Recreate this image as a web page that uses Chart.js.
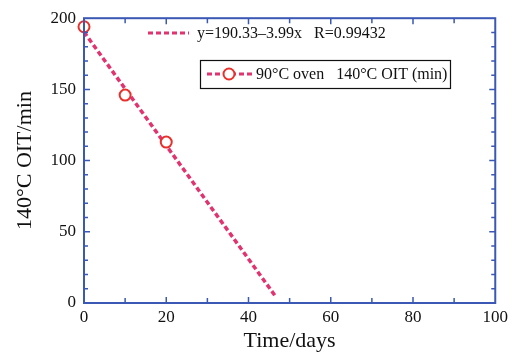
<!DOCTYPE html>
<html>
<head>
<meta charset="utf-8">
<script src="https://cdn.jsdelivr.net/npm/chart.js@4/dist/chart.umd.min.js"></script>
<style>
  html, body { margin: 0; padding: 0; background: #fff; }
  #wrap { width: 512px; height: 354px; }
</style>
</head>
<body>
<div id="wrap"><canvas id="chart" width="512" height="354"></canvas></div>
<script>
// datos
const days = [0, 10, 20];
const oit = [194, 146, 113];
const fitDays = [0, 46.5];
const fitOit = [190.3, 5];
const fitLabel = 'y=190.33\u20133.99x   R=0.99432';
const seriesLabel = '90\u00B0C oven   140\u00B0C OIT (min)';
const xTicks = [0, 20, 40, 60, 80, 100];
const yTicks = [0, 50, 100, 150, 200];

const axisColor = '#3b58b5';
const lineColor = '#e0336f';
const markColor = '#e8302c';
const serif = "'Liberation Serif', 'DejaVu Serif', serif";

// marco azul con ticks hacia adentro en los cuatro lados
const framePlugin = {
  id: 'frame',
  afterDraw(chart) {
    const { ctx, chartArea: a, scales: { x, y } } = chart;
    ctx.save();
    ctx.strokeStyle = axisColor;
    ctx.lineWidth = 2;
    ctx.strokeRect(a.left, a.top, a.right - a.left, a.bottom - a.top);
    ctx.lineWidth = 1.5;
    ctx.beginPath();
    for (let v = 10; v < 100; v += 10) {
      const px = x.getPixelForValue(v);
      const len = v % 20 === 0 ? 6 : 5;
      ctx.moveTo(px, a.bottom); ctx.lineTo(px, a.bottom - len);
      ctx.moveTo(px, a.top); ctx.lineTo(px, a.top + len);
    }
    for (let v = 10; v < 200; v += 10) {
      const py = y.getPixelForValue(v);
      const len = v % 50 === 0 ? 6 : 4;
      ctx.moveTo(a.left, py); ctx.lineTo(a.left + len, py);
      ctx.moveTo(a.right, py); ctx.lineTo(a.right - len, py);
    }
    ctx.stroke();
    ctx.restore();
  }
};

// leyendas dibujadas a mano como en el original
const legendPlugin = {
  id: 'customLegend',
  afterDraw(chart) {
    const ctx = chart.ctx;
    ctx.save();
    ctx.font = '16px ' + serif;
    ctx.fillStyle = '#111';
    ctx.textBaseline = 'middle';

    ctx.strokeStyle = lineColor;
    ctx.lineWidth = 3;
    ctx.setLineDash([5, 3]);
    ctx.beginPath();
    ctx.moveTo(148, 33); ctx.lineTo(189, 33);
    ctx.stroke();
    ctx.fillText(fitLabel, 197, 34);

    ctx.setLineDash([]);
    ctx.lineWidth = 1.2;
    ctx.strokeStyle = '#111';
    ctx.strokeRect(200.5, 60.5, 250, 28);

    ctx.strokeStyle = lineColor;
    ctx.lineWidth = 3;
    ctx.setLineDash([5, 3]);
    ctx.beginPath();
    ctx.moveTo(207, 74); ctx.lineTo(252, 74);
    ctx.stroke();
    ctx.setLineDash([]);
    ctx.beginPath();
    ctx.arc(229, 74, 5.5, 0, Math.PI * 2);
    ctx.fillStyle = '#fff';
    ctx.fill();
    ctx.strokeStyle = markColor;
    ctx.lineWidth = 2;
    ctx.stroke();

    ctx.fillStyle = '#111';
    ctx.fillText(seriesLabel, 256, 75);
    ctx.restore();
  }
};

new Chart(document.getElementById('chart').getContext('2d'), {
  type: 'scatter',
  data: {
    datasets: [
      {
        label: seriesLabel,
        data: days.map((d, i) => ({ x: d, y: oit[i] })),
        showLine: false,
        pointRadius: 5.5,
        pointBorderWidth: 2,
        pointBorderColor: markColor,
        pointBackgroundColor: '#fff'
      },
      {
        label: fitLabel,
        data: fitDays.map((d, i) => ({ x: d, y: fitOit[i] })),
        showLine: true,
        borderColor: lineColor,
        borderWidth: 3.5,
        borderDash: [5, 3],
        pointRadius: 0,
        tension: 0
      }
    ]
  },
  options: {
    responsive: false,
    animation: false,
    clip: false,
    layout: { padding: { left: 0, right: 16, top: 16, bottom: 0 } },
    plugins: { legend: { display: false }, tooltip: { enabled: false } },
    scales: {
      x: {
        type: 'linear',
        min: 0, max: 100,
        afterFit(s) { s.height = 51; },
        afterBuildTicks(s) { s.ticks = xTicks.map(v => ({ value: v })); },
        grid: { display: false, drawTicks: false },
        border: { display: false },
        ticks: { color: '#111', padding: 4, maxRotation: 0, font: { family: serif, size: 17 } },
        title: {
          display: true, text: 'Time/days', color: '#111',
          font: { family: serif, size: 22 }, padding: { top: 0, bottom: 0 }
        }
      },
      y: {
        type: 'linear',
        min: 0, max: 200,
        afterFit(s) { s.width = 84; },
        afterBuildTicks(s) { s.ticks = yTicks.map(v => ({ value: v })); },
        grid: { display: false, drawTicks: false },
        border: { display: false },
        ticks: { color: '#111', padding: 8, font: { family: serif, size: 17 } },
        title: {
          display: true, text: '140\u00B0C OIT/min', color: '#111',
          font: { family: serif, size: 22 }, padding: { top: 12, bottom: 0 }
        }
      }
    }
  },
  plugins: [framePlugin, legendPlugin]
});
</script>
</body>
</html>
